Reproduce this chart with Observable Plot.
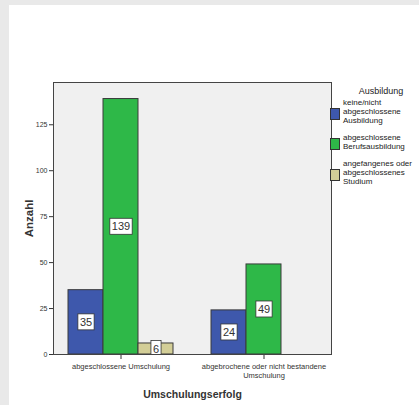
<!DOCTYPE html>
<html><head><meta charset="utf-8">
<script src="https://cdn.jsdelivr.net/npm/d3@7"></script>
<script src="https://cdn.jsdelivr.net/npm/@observablehq/plot@0.6"></script>
<style>
html,body{margin:0;padding:0;background:#e9e9e9;}
body{width:419px;height:405px;position:relative;overflow:hidden;font-family:"Liberation Sans",Arial,sans-serif;}
#panel{position:absolute;left:9px;top:5px;right:0;bottom:0;background:#fff;}
#chart{position:absolute;left:0;top:0;}
#chart svg{background:transparent;}
g[aria-label="y-axis label"]{font-size:11.5px;font-weight:bold;}
g[aria-label="fx-axis label"]{font-size:10.5px;font-weight:bold;}
#legend{position:absolute;left:330px;top:86px;width:89px;color:#222;font-size:8px;line-height:8.8px;}
#legend .title{width:102px;text-align:center;font-size:9px;line-height:10px;margin-bottom:1px;}
#legend .item{display:flex;align-items:center;height:30.5px;}
#legend .sw{width:8px;height:10px;border:1px solid #333;flex:none;margin-right:3px;margin-top:3px;}
#legend .lab{width:74px;}
</style></head>
<body>
<div id="panel"></div>
<div id="chart"></div>
<div id="legend"></div>
<script>
const groups = ["abgeschlossene Umschulung", "abgebrochene oder nicht bestandene Umschulung"];
const series = ["keine/nicht abgeschlossene Ausbildung", "abgeschlossene Berufsausbildung", "angefangenes oder abgeschlossenes Studium"];
const countsCompleted = [35, 139, 6];
const countsAborted = [24, 49, 0];
const colors = ["#3e58ac", "#2eb848", "#d3ce97"];
const yTicks = [0, 25, 50, 75, 100, 125];
const legendTitle = "Ausbildung";
const xTitle = "Umschulungserfolg";
const yTitle = "Anzahl";

const data = [];
[countsCompleted, countsAborted].forEach((vals, gi) => {
  vals.forEach((v, si) => { if (v > 0) data.push({group: groups[gi], series: series[si], value: v}); });
});

const plot = Plot.plot({
  width: 419, height: 405,
  marginTop: 82, marginRight: 88, marginBottom: 51, marginLeft: 53,
  style: {fontFamily: "'Liberation Sans', Arial, sans-serif", background: "transparent", color: "#333"},
  fx: {domain: groups, paddingInner: 0.0694, paddingOuter: 0},
  x: {domain: series, paddingInner: 0, paddingOuter: 0.4, axis: null},
  y: {domain: [0, 148]},
  color: {domain: series, range: colors},
  marks: [
    Plot.barY(data, {fx: "group", x: "series", y: "value", fill: "series", stroke: "#3a3a3a", strokeWidth: 1}),
    Plot.text(data, {fx: "group", x: "series", y: d => d.value / 2, text: d => String(d.value),
      fontSize: 11, fill: "#333", clip: true}),
    Plot.axisY({ticks: yTicks, tickSize: 5, tickPadding: 2, fontSize: 7, label: yTitle, labelAnchor: "center", labelOffset: 30, labelArrow: "none"}),
    Plot.axisFx({anchor: "bottom", tickSize: 5, tickPadding: 3, fontSize: 7.5, lineWidth: 19, lineHeight: 1.2, label: xTitle, labelAnchor: "center", labelOffset: 43, labelArrow: "none"})
  ]
});
document.getElementById("chart").append(plot);

const svg = d3.select(plot);
const fxr = plot.scale("fx").range, yr = plot.scale("y").range;
const fx0 = Math.min(...fxr), fx1 = Math.max(...fxr), y0 = Math.min(...yr), y1 = Math.max(...yr);
svg.insert("rect", "g").attr("x", fx0 + 0.5).attr("y", y0 + 0.5).attr("width", fx1 - fx0).attr("height", y1 - y0).attr("fill", "#f0f0f0");
svg.append("rect").attr("x", fx0 + 0.5).attr("y", y0 + 0.5).attr("width", fx1 - fx0).attr("height", y1 - y0)
  .attr("fill", "none").attr("stroke", "#444").attr("stroke-width", 1);

svg.selectAll('g[aria-label="text"] text').each(function() {
  const b = this.getBBox();
  const cy = b.y + b.height / 2;
  const t = this;
  d3.select(this.parentNode).insert("rect", () => t)
    .attr("x", b.x - 2).attr("y", cy - 8).attr("width", b.width + 4).attr("height", 16)
    .attr("transform", t.getAttribute("transform"))
    .attr("fill", "#fff").attr("stroke", "#333").attr("stroke-width", 0.8);
});

const cs = plot.scale("color");
const lg = d3.select("#legend");
lg.append("div").attr("class", "title").text(legendTitle);
cs.domain.forEach((s, i) => {
  const it = lg.append("div").attr("class", "item");
  it.append("div").attr("class", "sw").style("background", cs.range[i]);
  it.append("div").attr("class", "lab").text(s);
});
</script>
</body></html>
